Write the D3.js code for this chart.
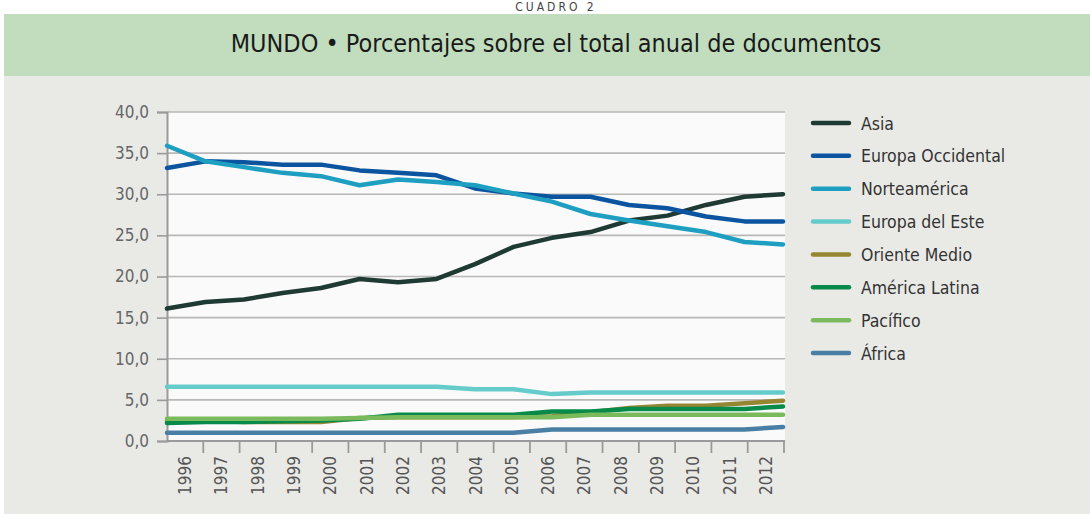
<!DOCTYPE html>
<html><head><meta charset="utf-8">
<script src="https://cdn.jsdelivr.net/npm/d3@7"></script>
<style>
html,body{margin:0;padding:0;background:#fff;}
svg{display:block;}
</style></head>
<body>
<svg id="c" width="1090" height="514"></svg>
<script>
const years = ["1996","1997","1998","1999","2000","2001","2002","2003","2004","2005","2006","2007","2008","2009","2010","2011","2012"];
const asia             = [16.1,16.9,17.2,18.0,18.6,19.7,19.3,19.7,21.5,23.6,24.7,25.4,26.8,27.4,28.7,29.7,30.0];
const europaOccidental = [33.2,34.0,33.9,33.6,33.6,32.9,32.6,32.3,30.7,30.1,29.7,29.7,28.7,28.3,27.3,26.7,26.7];
const norteamerica     = [35.9,34.0,33.3,32.6,32.2,31.1,31.8,31.5,31.1,30.1,29.1,27.6,26.8,26.1,25.4,24.2,23.9];
const europaDelEste    = [6.6,6.6,6.6,6.6,6.6,6.6,6.6,6.6,6.3,6.3,5.7,5.9,5.9,5.9,5.9,5.9,5.9];
const orienteMedio     = [2.5,2.5,2.3,2.3,2.3,2.8,2.9,2.9,2.9,2.9,3.0,3.5,4.0,4.3,4.3,4.6,4.9];
const americaLatina    = [2.2,2.3,2.3,2.4,2.5,2.7,3.2,3.2,3.2,3.2,3.6,3.6,3.9,3.9,3.9,3.9,4.2];
const pacifico         = [2.7,2.7,2.7,2.7,2.7,2.8,2.9,2.9,2.9,2.9,2.9,3.2,3.2,3.2,3.2,3.2,3.2];
const africa           = [1.0,1.0,1.0,1.0,1.0,1.0,1.0,1.0,1.0,1.0,1.4,1.4,1.4,1.4,1.4,1.4,1.7];
const seriesNames  = ["Asia","Europa Occidental","Norteamérica","Europa del Este","Oriente Medio","América Latina","Pacífico","África"];
const seriesValues = [asia,europaOccidental,norteamerica,europaDelEste,orienteMedio,americaLatina,pacifico,africa];
const seriesColors = ["#1f3a32","#0b55a0","#1e9fc2","#66cbcb","#958632","#078a4a","#7aba5c","#4a7fa5"];
const yTicks = [0,5,10,15,20,25,30,35,40];
const supTitle = "CUADRO 2";
const title = "MUNDO • Porcentajes sobre el total anual de documentos";

const FONT = "'Liberation Sans Narrow','DejaVu Sans Condensed','Open Sans',sans-serif";
const svg = d3.select("#c");

// backgrounds
svg.append("rect").attr("x",0).attr("y",0).attr("width",1090).attr("height",514).attr("fill","#ffffff");
svg.append("rect").attr("x",4).attr("y",76).attr("width",1086).attr("height",438).attr("fill","#e9eae6");
svg.append("rect").attr("x",4).attr("y",14).attr("width",1086).attr("height",62).attr("fill","#c1ddbe");

svg.append("text").attr("x",556).attr("y",11).attr("text-anchor","middle")
  .attr("font-family",FONT).attr("font-size",12).attr("letter-spacing",3).attr("fill","#444").text(supTitle);

const t = svg.append("text").attr("x",556).attr("y",52).attr("text-anchor","middle")
  .attr("font-family",FONT).attr("font-size",22).attr("fill","#1a1a1a").text(title);
const tw = t.node().getComputedTextLength();
t.attr("font-size", 22*651/tw);

const L = 167, R = 784, T = 112, B = 441;
const y = d3.scaleLinear().domain([0,40]).range([B,T]);
const xp = d3.scalePoint().domain(years).range([L,783]);
const xb = d3.scaleBand().domain(years).range([L,R]).paddingInner(0).paddingOuter(0);

svg.append("rect").attr("x",L).attr("y",T).attr("width",R-L+1).attr("height",B-T).attr("fill","#fafafa");

// grid
svg.append("g").selectAll("line").data(yTicks.filter(d=>d>0)).join("line")
  .attr("x1",L).attr("x2",R+1).attr("y1",d=>y(d)).attr("y2",d=>y(d))
  .attr("stroke","#b7b9b7").attr("stroke-width",1.6);

// y axis
const fmt = d => d3.format(".1f")(d).replace(".",",");
const ya = svg.append("g").attr("transform",`translate(${L},0)`)
  .call(d3.axisLeft(y).tickValues(yTicks).tickFormat(fmt).tickSize(10).tickPadding(8));
ya.select(".domain").attr("stroke","#9a9a9a").attr("stroke-width",2);
ya.selectAll(".tick line").attr("stroke","#9a9a9a").attr("stroke-width",1.6);
ya.selectAll(".tick text").attr("font-family",FONT).attr("font-size",17).attr("fill","#666");

// x axis (band ticks at boundaries)
const xa = svg.append("g").attr("transform",`translate(0,${B})`);
xa.append("line").attr("x1",L-1).attr("x2",R+1).attr("y1",0).attr("y2",0).attr("stroke","#9a9a9a").attr("stroke-width",2);
xa.selectAll("line.tk").data(years).join("line").attr("class","tk")
  .attr("x1",d=>xb(d)+xb.bandwidth()).attr("x2",d=>xb(d)+xb.bandwidth())
  .attr("y1",0).attr("y2",12).attr("stroke","#9a9a9a").attr("stroke-width",1.8);
xa.selectAll("text").data(years).join("text")
  .attr("transform",d=>`translate(${xb(d)+xb.bandwidth()/2+6},15) rotate(-90)`)
  .attr("text-anchor","end").attr("font-family",FONT).attr("font-size",17).attr("fill","#555").text(d=>d);

// lines
const line = d3.line().x((d,i)=>xp(years[i])).y(d=>y(d));
svg.append("g").selectAll("path").data(seriesValues).join("path")
  .attr("d",d=>line(d)).attr("fill","none")
  .attr("stroke",(d,i)=>seriesColors[i]).attr("stroke-width",4.5)
  .attr("stroke-linejoin","round").attr("stroke-linecap","round");

// legend
const lg = svg.append("g");
const ly = d3.scalePoint().domain(seriesNames).range([123,353]);
lg.selectAll("line").data(seriesNames).join("line")
  .attr("x1",813).attr("x2",849).attr("y1",d=>ly(d)).attr("y2",d=>ly(d))
  .attr("stroke",(d,i)=>seriesColors[i]).attr("stroke-width",4.5).attr("stroke-linecap","round");
lg.selectAll("text").data(seriesNames).join("text")
  .attr("x",861).attr("y",d=>ly(d)+6.5).attr("font-family",FONT).attr("font-size",17.5).attr("fill","#333").text(d=>d);
</script>
</body></html>
